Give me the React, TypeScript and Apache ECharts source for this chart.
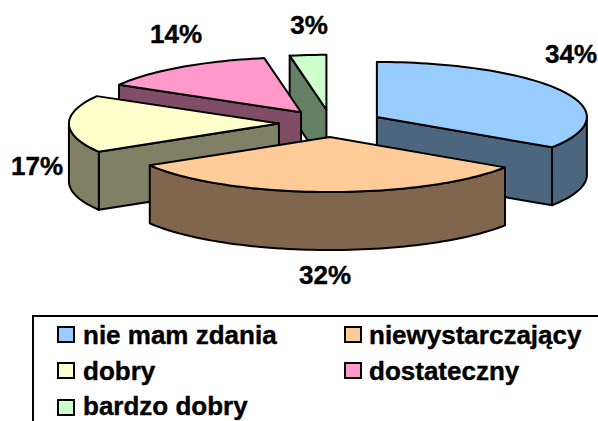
import React, { useEffect, useRef } from "react";
import * as echarts from "echarts";

const categories = ["nie mam zdania", "niewystarczający", "dobry", "dostateczny", "bardzo dobry"];
const shares = [34.3, 32.1, 16.9, 13.9, 2.8];
const topColors = ["#99CCFF", "#FFCC99", "#FFFFCC", "#FF99CC", "#CCFFCC"];
const sideColors = ["#4D6680", "#80664D", "#808066", "#804D66", "#668066"];

// painter's order, back to front
const drawOrder = [4, 3, 2, 0, 1];

// projection of the 3D pie
const CX = 331;
const CY = 123.4;
const RX = 210;
const RY = 55;
const DEPTH = 58;
const EXPLODE = 0.248;
const FONT = "Liberation Sans, Arial, sans-serif";
const FONT_SIZE = 26;

const labelAnchors = [
  [571, 54],
  [325, 275],
  [37, 166],
  [176, 34],
  [309, 25],
];
const legendAnchors = [
  [58, 327, 83, 335],
  [345, 327, 369, 335],
  [58, 363, 83, 371],
  [345, 363, 369, 371],
  [58, 400, 83, 406],
];

const total = shares.reduce((a, b) => a + b, 0);
const starts: number[] = [];
shares.reduce((acc, v, i) => {
  starts[i] = acc;
  return acc + v;
}, 0);

const rad = (share: number) => (share / total) * Math.PI * 2;

function renderSlice(_params: any, api: any) {
  const idx = api.value(0) as number;
  const a = rad(starts[idx]);
  const b = a + rad(api.value(1) as number);
  const mid = (a + b) / 2;
  const ax = CX + EXPLODE * RX * Math.sin(mid);
  const ay = CY - EXPLODE * RY * Math.cos(mid);
  const rim = (t: number): number[] => [ax + RX * Math.sin(t), ay - RY * Math.cos(t)];
  const down = (p: number[]): number[] => [p[0], p[1] + DEPTH];
  const arc = (t0: number, t1: number): number[][] => {
    const n = Math.max(2, Math.ceil((t1 - t0) / 0.03));
    const pts: number[][] = [];
    for (let i = 0; i <= n; i++) pts.push(rim(t0 + ((t1 - t0) * i) / n));
    return pts;
  };
  const apex = [ax, ay];
  const sideStyle = { fill: sideColors[idx], stroke: "#000", lineWidth: 2, lineJoin: "round" };
  const children: any[] = [];
  const face = (pts: number[][]) =>
    children.push({ type: "polygon", shape: { points: pts }, style: sideStyle });

  if (Math.sin(b) > 0.001) {
    const e = rim(b);
    face([apex, e, down(e), down(apex)]);
  }
  if (Math.sin(a) < -0.001) {
    const s = rim(a);
    face([apex, s, down(s), down(apex)]);
  }
  const w0 = Math.max(a, Math.PI / 2);
  const w1 = Math.min(b, (Math.PI * 3) / 2);
  if (w1 > w0) {
    const top = arc(w0, w1);
    face([...top, ...top.slice().reverse().map(down)]);
  }
  children.push({
    type: "polygon",
    shape: { points: [apex, ...arc(a, b)] },
    style: { fill: topColors[idx], stroke: "#000", lineWidth: 2, lineJoin: "round" },
  });
  return { type: "group", children };
}

export default function App() {
  const ref = useRef<HTMLDivElement>(null);
  useEffect(() => {
    document.body.style.margin = "0";
    const chart = echarts.init(ref.current!, undefined, { renderer: "svg" });
    const textStyle = {
      fontFamily: FONT,
      fontWeight: "bold",
      fontSize: FONT_SIZE,
      fill: "#000",
      stroke: "#000",
      lineWidth: 0.4,
    };
    const graphic: any[] = [
      {
        type: "rect",
        shape: { x: 33, y: 316, width: 620, height: 160 },
        style: { fill: "#fff", stroke: "#000", lineWidth: 2 },
        z: -1,
      },
    ];
    shares.forEach((v, i) => {
      graphic.push({
        type: "text",
        style: {
          ...textStyle,
          text: `${Math.round(v)}%`,
          x: labelAnchors[i][0],
          y: labelAnchors[i][1],
          align: "center",
          verticalAlign: "middle",
        },
      });
    });
    categories.forEach((name, i) => {
      const [sx, sy, tx, ty] = legendAnchors[i];
      graphic.push({
        type: "rect",
        shape: { x: sx, y: sy, width: 16, height: 15 },
        style: { fill: topColors[i], stroke: "#000", lineWidth: 2 },
      });
      graphic.push({
        type: "text",
        style: { ...textStyle, text: name, x: tx, y: ty, align: "left", verticalAlign: "middle" },
      });
    });
    chart.setOption({
      animation: false,
      backgroundColor: "#fff",
      graphic,
      series: [
        {
          type: "custom",
          coordinateSystem: "none",
          silent: true,
          renderItem: renderSlice,
          data: drawOrder.map((i) => ({ name: categories[i], value: [i, shares[i]] })),
        },
      ],
    });
    return () => chart.dispose();
  }, []);
  return <div ref={ref} style={{ width: 598, height: 421 }} />;
}
